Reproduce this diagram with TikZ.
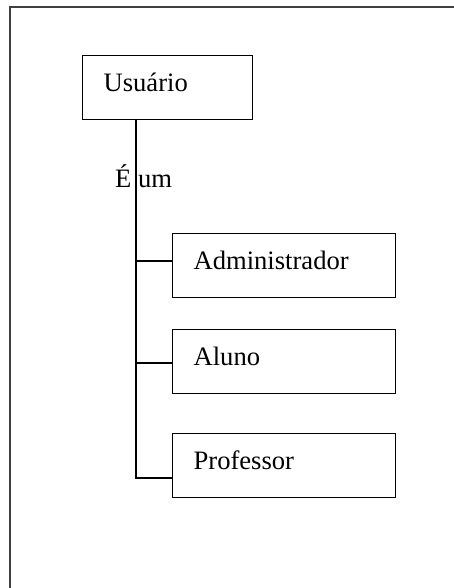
\documentclass[tikz,border=0pt]{standalone}
\usepackage{fontspec}
\setmainfont{Liberation Serif}
\usepackage{tikz}
\usetikzlibrary{positioning,calc}
\definecolor{frameGray}{RGB}{64,64,64}
\tikzset{
  caixa/.style={draw=black,line width=1.2pt,inner xsep=21pt,inner ysep=0pt,align=left,
    minimum height=64pt,text height=18pt,text depth=11pt,anchor=north west,
    font=\fontsize{26.6}{30}\selectfont},
  ligacao/.style={draw=black,line width=1.2pt,line join=miter},
  moldura/.style={draw=frameGray,line width=2.2pt}
}

\begin{document}
\begin{tikzpicture}[x=1pt,y=-1pt]
  \useasboundingbox (0,0) rectangle (454,588);
  \clip (0,0) rectangle (454,588);
  % moldura (so topo e lado esquerdo aparecem)
  \coordinate (mA) at (10,600);
  \coordinate (mB) at (10,7);
  \coordinate (mC) at (470,7);
  \draw[moldura] (mA) -- (mB) -- (mC);

  \node[caixa,text width=128pt] (usuario) at (82,55) {Usuário};
  \node[caixa,text width=181pt] (admin) at (172,233) {Administrador};
  \node[caixa,text width=181pt] (aluno) at (172,329) {Aluno};
  \node[caixa,text width=181pt] (professor) at (172,433) {Professor};

  \node[anchor=base west,inner sep=0pt,font=\fontsize{26.6}{30}\selectfont] (rotulo) at (115,187) {É um};

  % hierarquia
  \coordinate (topo) at (136,119);
  \coordinate (ramoA) at (136,261);
  \coordinate (ramoB) at (136,363);
  \coordinate (ramoC) at (136,478);
  \draw[ligacao] (topo) -- (ramoC) -- (ramoC -| professor.west);
  \draw[ligacao] (ramoA) -- (ramoA -| admin.west);
  \draw[ligacao] (ramoB) -- (ramoB -| aluno.west);
\end{tikzpicture}
\end{document}
